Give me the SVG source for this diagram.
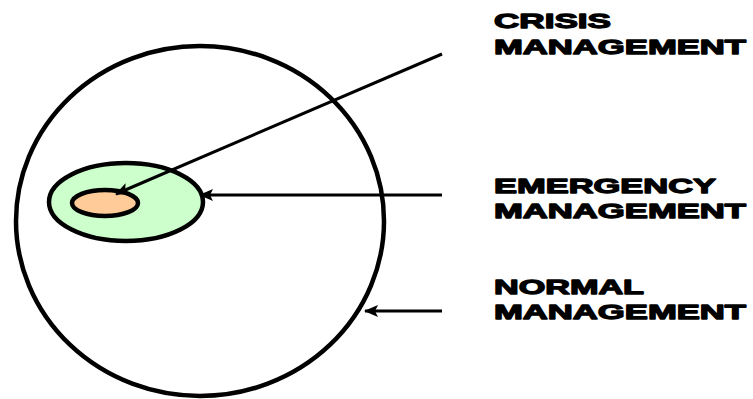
<svg xmlns="http://www.w3.org/2000/svg" width="753" height="399" viewBox="0 0 753 399">
<style>
.ring{stroke:#000;stroke-width:4.5;}
.conn{stroke:#000;stroke-width:3;fill:none;}
.lbl{font-family:"Liberation Sans",Arial,sans-serif;font-weight:bold;font-size:21px;fill:#000;stroke:#000;stroke-width:1.3;stroke-linejoin:round;}
</style>
<defs>
<marker id="ah" markerUnits="userSpaceOnUse" markerWidth="14" markerHeight="12" refX="13" refY="6" orient="auto">
<path d="M0,0 L14,6 L0,12 L3,6 Z" fill="#000"/>
</marker>
</defs>
<g id="normal"><ellipse class="ring" cx="200" cy="221" rx="184" ry="175" fill="#fff"/></g>
<g id="emergency"><ellipse class="ring" cx="126" cy="202" rx="77" ry="39" fill="#ccffcc"/></g>
<g id="crisis"><ellipse class="ring" cx="105" cy="203" rx="33" ry="13" fill="#ffcc99"/></g>
<g id="connectors">
<line class="conn" x1="442" y1="54" x2="116" y2="194" marker-end="url(#ah)"/>
<line class="conn" x1="442" y1="195" x2="200" y2="195" marker-end="url(#ah)"/>
<line class="conn" x1="442" y1="311" x2="365" y2="311" marker-end="url(#ah)"/>
</g>
<g id="labels">
<text class="lbl" x="494" y="28" textLength="117" lengthAdjust="spacingAndGlyphs">CRISIS</text>
<text class="lbl" x="494" y="54" textLength="252" lengthAdjust="spacingAndGlyphs">MANAGEMENT</text>
<text class="lbl" x="494" y="193" textLength="222" lengthAdjust="spacingAndGlyphs">EMERGENCY</text>
<text class="lbl" x="494" y="218" textLength="252" lengthAdjust="spacingAndGlyphs">MANAGEMENT</text>
<text class="lbl" x="494" y="294" textLength="150" lengthAdjust="spacingAndGlyphs">NORMAL</text>
<text class="lbl" x="494" y="319" textLength="252" lengthAdjust="spacingAndGlyphs">MANAGEMENT</text>
</g>
</svg>
